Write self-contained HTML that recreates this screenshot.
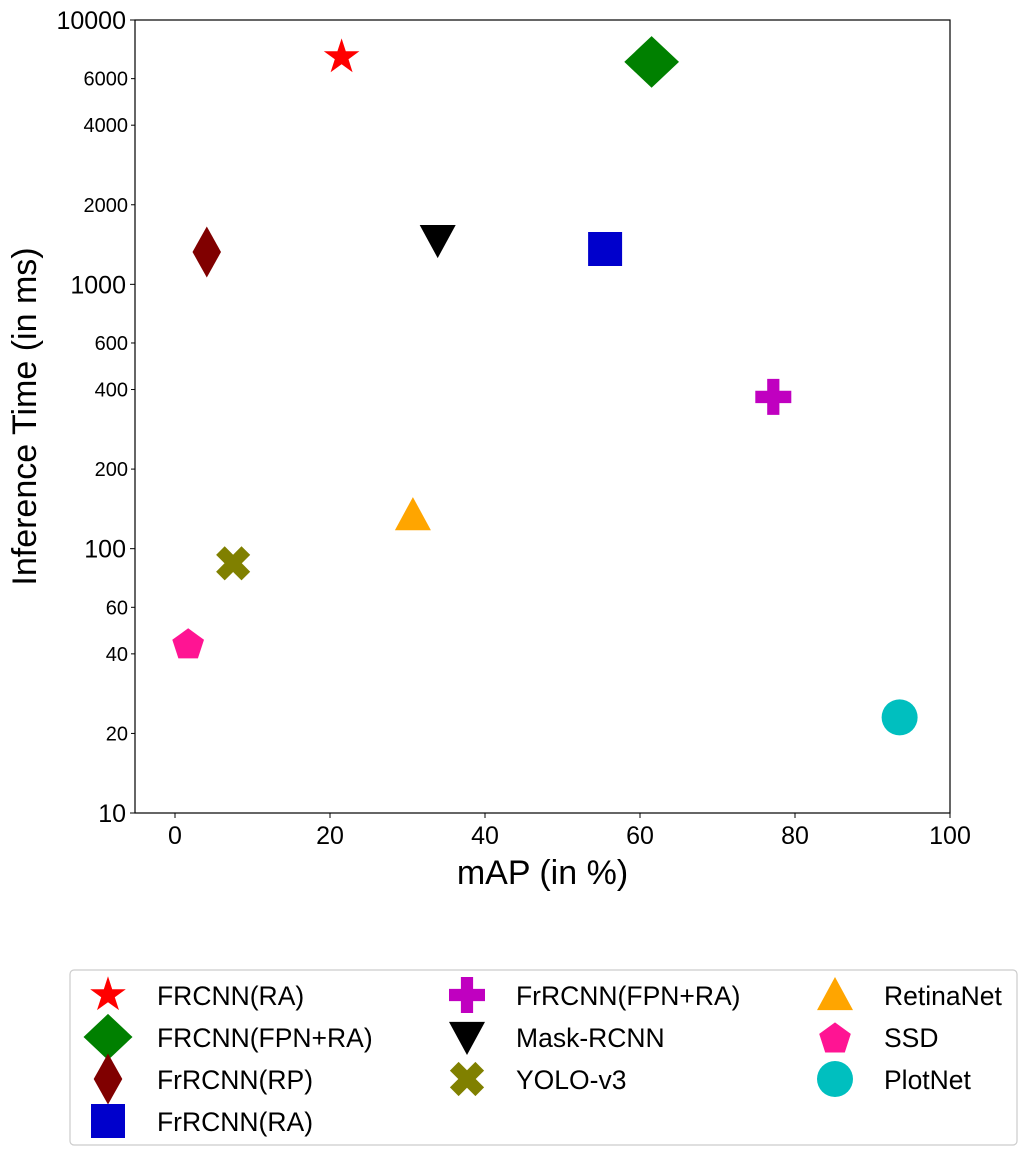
<!DOCTYPE html>
<html><head><meta charset="utf-8"><style>
html,body{margin:0;padding:0;background:#fff;}
svg{display:block;font-family:"Liberation Sans",sans-serif;}
</style></head><body>
<svg id="chart" width="1027" height="1156" viewBox="0 0 1027 1156"></svg>
<script>
const models = ["FRCNN(RA)","FRCNN(FPN+RA)","FrRCNN(RP)","FrRCNN(RA)","FrRCNN(FPN+RA)","Mask-RCNN","YOLO-v3","RetinaNet","SSD","PlotNet"];
const mapValues = [21.5,61.5,4.1,55.5,77.2,33.9,7.5,30.7,1.7,93.5];
const timeValues = [7240,6940,1325,1360,375,1470,88,134,44,23];
const xTicks = [0,20,40,60,80,100];
const yMajorTicks = [10,100,1000,10000];
const yMinorTicks = [20,40,60,200,400,600,2000,4000,6000];
const markers = ["star","diamond","thin_diamond","square","plus","triangle_down","x","triangle_up","pentagon","circle"];
const colors = ["#ff0000","#008000","#800000","#0000cc","#c000c0","#000000","#808000","#ffa500","#ff1493","#00bfbf"];

const NS="http://www.w3.org/2000/svg";
const svg=document.getElementById('chart');
const L=135,R=950,T=20,B=813,XMIN=-5.16,XMAX=100,YMIN=1,YMAX=4;
const xs=v=>L+(v-XMIN)/(XMAX-XMIN)*(R-L);
const ys=v=>B-(Math.log10(v)-YMIN)/(YMAX-YMIN)*(B-T);
function mk(tag,attrs,parent){const e=document.createElementNS(NS,tag);for(const k in attrs)e.setAttribute(k,attrs[k]);(parent||svg).appendChild(e);return e;}
function txt(x,y,s,size,anchor,parent){const t=mk('text',{x:x,y:y,'font-size':size,'text-anchor':anchor||'middle',fill:'#000'},parent);t.textContent=s;return t;}

function markerPath(type,cx,cy,s){
  const p=[];
  if(type==='star'){for(let i=0;i<10;i++){const r=i%2?s*0.2:s*0.52;const a=-Math.PI/2+i*Math.PI/5;p.push([cx+r*Math.cos(a),cy+r*Math.sin(a)]);}}
  else if(type==='diamond'){p.push([cx,cy-s*0.68],[cx+s*0.72,cy],[cx,cy+s*0.68],[cx-s*0.72,cy]);}
  else if(type==='thin_diamond'){p.push([cx,cy-s*0.75],[cx+s*0.42,cy],[cx,cy+s*0.75],[cx-s*0.42,cy]);}
  else if(type==='square'){const h=s*0.5;p.push([cx-h,cy-h],[cx+h,cy-h],[cx+h,cy+h],[cx-h,cy+h]);}
  else if(type==='triangle_down'){p.push([cx-s*0.5,cy-s*0.42],[cx+s*0.5,cy-s*0.42],[cx,cy+s*0.5]);}
  else if(type==='triangle_up'){p.push([cx-s*0.5,cy+s*0.42],[cx+s*0.5,cy+s*0.42],[cx,cy-s*0.5]);}
  else if(type==='pentagon'){for(let i=0;i<5;i++){const a=-Math.PI/2+i*2*Math.PI/5;p.push([cx+s*0.52*Math.cos(a),cy+s*0.52*Math.sin(a)+2]);}}
  else if(type==='plus'){const a=s*0.5,b=s*0.17;p.push([cx-b,cy-a],[cx+b,cy-a],[cx+b,cy-b],[cx+a,cy-b],[cx+a,cy+b],[cx+b,cy+b],[cx+b,cy+a],[cx-b,cy+a],[cx-b,cy+b],[cx-a,cy+b],[cx-a,cy-b],[cx-b,cy-b]);}
  else if(type==='x'){const a=s*0.5,b=s*0.17;const base=[[-b,-a],[b,-a],[b,-b],[a,-b],[a,b],[b,b],[b,a],[-b,a],[-b,b],[-a,b],[-a,-b],[-b,-b]];const c=Math.SQRT1_2;base.forEach(([x,y])=>p.push([cx+(x-y)*c,cy+(x+y)*c]));}
  return 'M'+p.map(q=>q[0].toFixed(1)+','+q[1].toFixed(1)).join('L')+'Z';
}
function drawMarker(type,cx,cy,s,color,parent){
  if(type==='circle')return mk('circle',{cx:cx,cy:cy,r:s*0.5,fill:color},parent);
  return mk('path',{d:markerPath(type,cx,cy,s),fill:color},parent);
}
const sizes={star:36,diamond:38,thin_diamond:34,square:34,plus:36,triangle_down:36,x:36,triangle_up:36,pentagon:32,circle:36};

const frame=mk('rect',{x:L,y:T,width:R-L,height:B-T,fill:'none',stroke:'#000','stroke-width':1.2});



const xg=mk('g',{});


xTicks.forEach(v=>{const x=xs(v);mk('line',{x1:x,x2:x,y1:B,y2:B+5,stroke:'#000'},xg);const t=txt(x,B+31,String(v),25,'middle',xg);});
const xt=txt((L+R)/2,884,'mAP (in %)',34);



const yg=mk('g',{});


yMajorTicks.forEach(v=>{const y=ys(v);mk('line',{x1:L-5,x2:L,y1:y,y2:y,stroke:'#000'},yg);const t=txt(L-9,y+9,String(v),25,'end',yg);});
yMinorTicks.forEach(v=>{const y=ys(v);mk('line',{x1:L-4,x2:L,y1:y,y2:y,stroke:'#000'},yg);const t=txt(L-7,y+7,String(v),20,'end',yg);});
const yt=txt(0,0,'Inference Time (in ms)',34);
yt.setAttribute('transform','translate(36,'+((T+B)/2)+') rotate(-90)');



models.forEach((m,i)=>{
  const el=drawMarker(markers[i],xs(mapValues[i]),ys(timeValues[i]),sizes[markers[i]],colors[i]);
  
  
});

const lg=mk('g',{});


mk('rect',{x:70,y:970,width:947,height:175,rx:4,fill:'#fff',stroke:'#ccc','stroke-width':1.2},lg);
const colX=[108,467,835];
const rowsPerCol=[4,3,3];
let idx=0;
colX.forEach((cx,c)=>{for(let r=0;r<rowsPerCol[c];r++){const i=idx++;const cy=995+r*42;
  const g=mk('g',{},lg);
  
  
  drawMarker(markers[i],cx,cy,markers[i]==='diamond'?34:sizes[markers[i]],colors[i],g);
  txt(cx+49,cy+10,models[i],26.5,'start',g);
}});
</script>
</body></html>
